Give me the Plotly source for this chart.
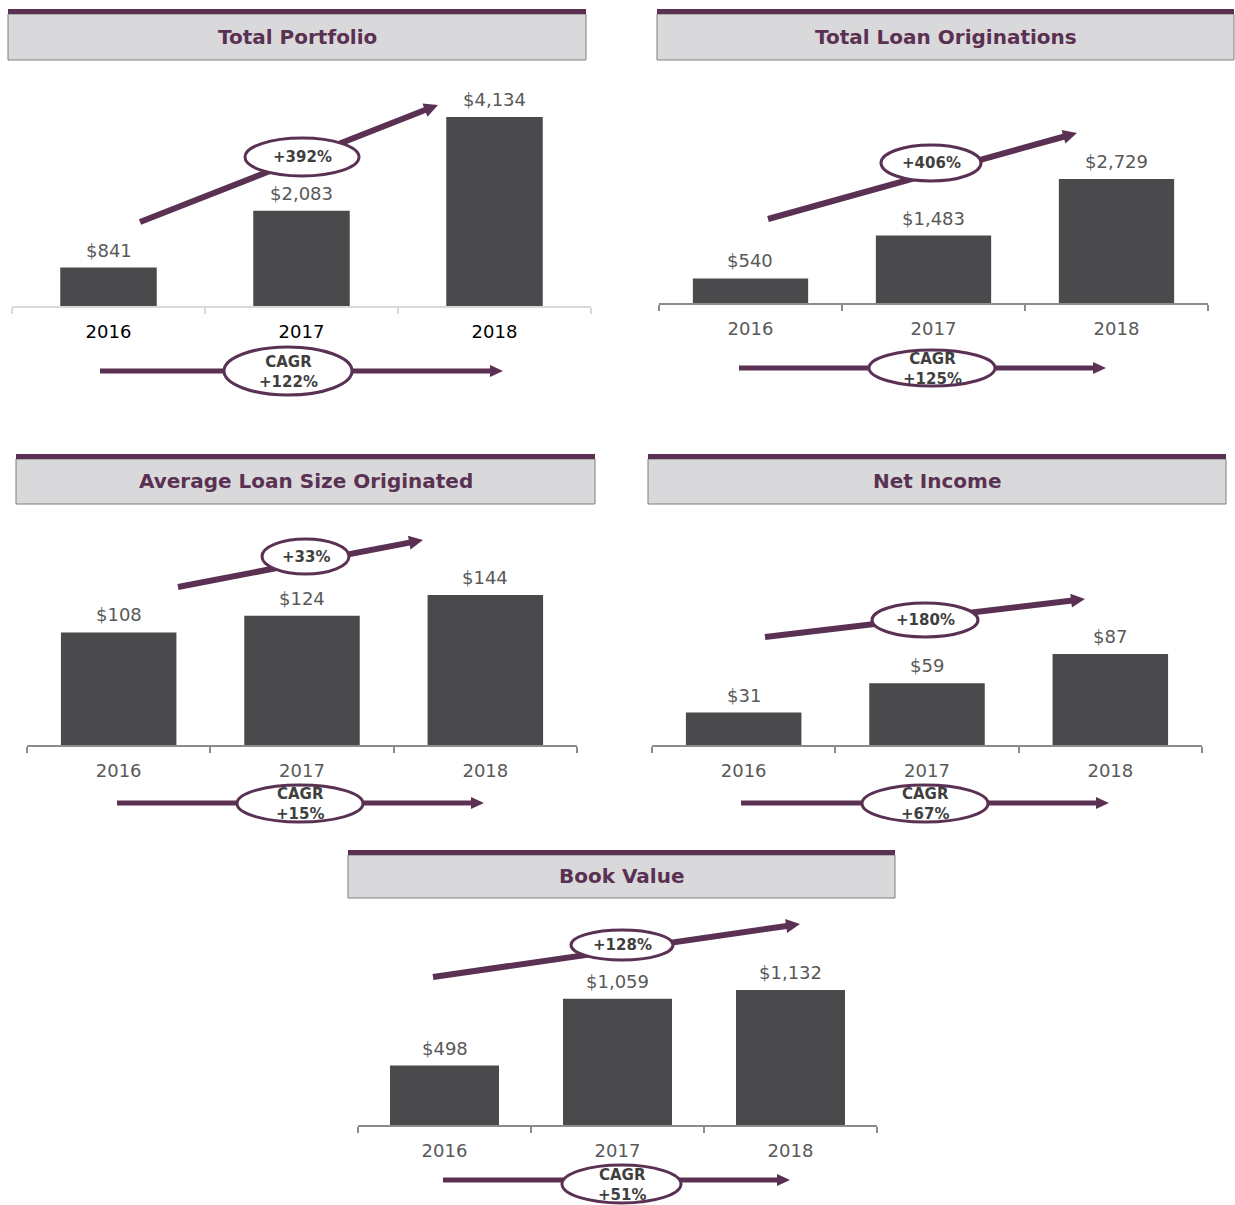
import math
import plotly.graph_objects as go

# ---------------- data ----------------
years = ["2016", "2017", "2018"]
total_portfolio = [841, 2083, 4134]
loan_originations = [540, 1483, 2729]
avg_loan_size = [108, 124, 144]
net_income = [31, 59, 87]
book_value = [498, 1059, 1132]
titles = ["Total Portfolio", "Total Loan Originations", "Average Loan Size Originated",
          "Net Income", "Book Value"]
growth_labels = ["+392%", "+406%", "+33%", "+180%", "+128%"]
cagr_labels = ["+122%", "+125%", "+15%", "+67%", "+51%"]
series = [total_portfolio, loan_originations, avg_loan_size, net_income, book_value]

# ---------------- style / layout (pixels) ----------------
W, H = 1235, 1205
PURPLE = "#5a3152"
BAR = "#4a4a4c"
LABEL = "#595959"
FONT = "DejaVu Sans"

layout_px = [
    dict(box=(8, 586, 9, 60), base=306, left=12, right=591, top_px=117, bw=0.5,
         axis_color="#d9d9d9", tick_color="#000000",
         trend=((140, 222), (438, 105)), trend_ell=(302, 157, 114, 38),
         cagr=((100, 371), (503, 371)), cagr_ell=(288, 371, 128, 48)),
    dict(box=(657, 1234, 9, 60), base=303, left=659, right=1208, top_px=179, bw=0.63,
         axis_color="#8c8c8c", tick_color=LABEL,
         trend=((768, 219), (1077, 133)), trend_ell=(931, 163, 100, 36),
         cagr=((739, 368), (1106, 368)), cagr_ell=(932, 368, 126, 36)),
    dict(box=(16, 595, 454, 504), base=745, left=27, right=577, top_px=595, bw=0.63,
         axis_color="#8c8c8c", tick_color=LABEL,
         trend=((178, 587), (423, 540)), trend_ell=(305.5, 556.5, 87, 35),
         cagr=((117, 803), (484, 803)), cagr_ell=(300, 803.5, 126, 37)),
    dict(box=(648, 1226, 454, 504), base=745, left=652, right=1202, top_px=654, bw=0.63,
         axis_color="#8c8c8c", tick_color=LABEL,
         trend=((765, 637), (1085, 599)), trend_ell=(925, 620, 106, 34),
         cagr=((741, 803), (1109, 803)), cagr_ell=(925, 803.5, 126, 37)),
    dict(box=(348, 895, 850, 898), base=1125, left=358, right=877, top_px=990, bw=0.63,
         axis_color="#8c8c8c", tick_color=LABEL,
         trend=((433, 977), (800, 924)), trend_ell=(622, 945, 102, 30),
         cagr=((443, 1180), (790, 1180)), cagr_ell=(621.5, 1184, 119, 38)),
]


def px(x):
    return x / W


def py(y):
    return 1 - y / H


fig = go.Figure()
shapes = []
annotations = []


def arrow(tail, head, width, hl, hw):
    (x0, y0), (x1, y1) = tail, head
    d = math.hypot(x1 - x0, y1 - y0)
    ux, uy = (x1 - x0) / d, (y1 - y0) / d
    bx, by = x1 - ux * hl, y1 - uy * hl
    ex, ey = x1 - ux * hl * 0.6, y1 - uy * hl * 0.6
    shapes.append(dict(type="line", xref="paper", yref="paper",
                       x0=px(x0), y0=py(y0), x1=px(ex), y1=py(ey),
                       line=dict(color=PURPLE, width=width)))
    pxx, pyy = -uy, ux
    c1 = (bx + pxx * hw, by + pyy * hw)
    c2 = (bx - pxx * hw, by - pyy * hw)
    path = "M {} {} L {} {} L {} {} Z".format(px(x1), py(y1), px(c1[0]), py(c1[1]),
                                              px(c2[0]), py(c2[1]))
    shapes.append(dict(type="path", xref="paper", yref="paper", path=path,
                       fillcolor=PURPLE, line=dict(color=PURPLE, width=0)))


def ellipse(cx, cy, w, h):
    shapes.append(dict(type="circle", xref="paper", yref="paper",
                       x0=px(cx - w / 2), x1=px(cx + w / 2),
                       y0=py(cy + h / 2), y1=py(cy - h / 2),
                       fillcolor="white", line=dict(color=PURPLE, width=3)))


def label(x, y, text, size, color):
    annotations.append(dict(x=px(x), y=py(y), xref="paper", yref="paper",
                            xanchor="center", yanchor="middle", showarrow=False,
                            text=text, font=dict(family=FONT, size=size, color=color)))


for i, (vals, L) in enumerate(zip(series, layout_px)):
    n = "" if i == 0 else str(i + 1)
    xa, ya = "x" + n, "y" + n
    base, top_px = L["base"], L["top_px"]
    dom_top = top_px - 40
    ymax = max(vals) * (base - dom_top) / (base - top_px)

    fig.add_trace(go.Bar(x=years, y=vals, xaxis=xa, yaxis=ya, width=L["bw"],
                         marker=dict(color=BAR, line=dict(width=0)),
                         hoverinfo="skip", showlegend=False))
    fig.update_layout(**{
        "xaxis" + n: dict(domain=[px(L["left"]), px(L["right"])], anchor=ya,
                          range=[-0.5, 2.5], type="category",
                          showline=True, linecolor=L["axis_color"], linewidth=1.5,
                          ticks="outside", tickson="boundaries", ticklen=6,
                          tickcolor=L["axis_color"], tickwidth=1.5,
                          showgrid=False, zeroline=False,
                          tickfont=dict(family=FONT, size=18, color=L["tick_color"]),
                          ticklabelstandoff=9, fixedrange=True),
        "yaxis" + n: dict(domain=[py(base), py(dom_top)], anchor=xa,
                          range=[0, ymax], visible=False, fixedrange=True),
    })

    # value labels
    for j, v in enumerate(vals):
        annotations.append(dict(x=j, y=v, xref=xa, yref=ya, text="${:,}".format(v),
                                showarrow=False, xanchor="center", yanchor="bottom",
                                yshift=5,
                                font=dict(family=FONT, size=18, color=LABEL)))

    # title box
    x0, x1, yb0, yb1 = L["box"]
    shapes.append(dict(type="rect", xref="paper", yref="paper",
                       x0=px(x0), x1=px(x1), y0=py(yb1), y1=py(yb0 + 5),
                       fillcolor="#d9d9db", line=dict(color="#7f7f7f", width=1)))
    shapes.append(dict(type="rect", xref="paper", yref="paper",
                       x0=px(x0), x1=px(x1), y0=py(yb0 + 5), y1=py(yb0),
                       fillcolor=PURPLE, line=dict(width=0)))
    label((x0 + x1) / 2, (yb0 + 5 + yb1) / 2 - 0.5, "<b>{}</b>".format(titles[i]), 20, PURPLE)

    # trend arrow + ellipse
    arrow(L["trend"][0], L["trend"][1], 6, 14, 7)
    ex, ey, ew, eh = L["trend_ell"]
    ellipse(ex, ey, ew, eh)
    label(ex, ey, "<b>{}</b>".format(growth_labels[i]), 15, "#3f3f3f")

    # CAGR arrow + ellipse
    arrow(L["cagr"][0], L["cagr"][1], 5, 13, 6)
    cx, cy, cw, ch = L["cagr_ell"]
    ellipse(cx, cy, cw, ch)
    label(cx, cy + 0.5, "<b>CAGR</b><br><b>{}</b>".format(cagr_labels[i]), 15, "#3f3f3f")

fig.update_layout(width=W, height=H, margin=dict(l=0, r=0, t=0, b=0),
                  paper_bgcolor="white", plot_bgcolor="white", showlegend=False,
                  shapes=shapes, annotations=annotations,
                  font=dict(family=FONT))

fig.write_html("out.html", config={"displayModeBar": False},
               post_script="document.body.style.margin='0px';")
